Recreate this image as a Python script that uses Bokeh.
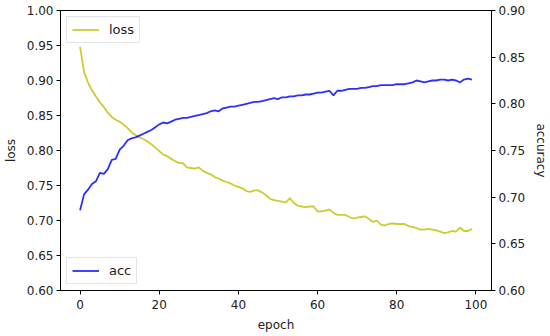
from bokeh.plotting import figure
from bokeh.models import (Range1d, LinearAxis, Legend, LegendItem, FixedTicker,
                          NumeralTickFormatter, ColumnDataSource)
from bokeh.embed import file_html
from bokeh.resources import INLINE

epochs = list(range(100))

loss = [0.948, 0.912, 0.897, 0.886, 0.877, 0.869, 0.862, 0.854, 0.848, 0.844,
        0.841, 0.837, 0.832, 0.826, 0.822, 0.819, 0.816, 0.813, 0.809, 0.804,
        0.799, 0.794, 0.792, 0.788, 0.785, 0.782, 0.782, 0.776, 0.775, 0.774,
        0.776, 0.771, 0.768, 0.766, 0.762, 0.760, 0.757, 0.755, 0.753, 0.750,
        0.748, 0.746, 0.742, 0.741, 0.743, 0.743, 0.740, 0.736, 0.731, 0.729,
        0.728, 0.727, 0.726, 0.732, 0.725, 0.721, 0.720, 0.719, 0.720, 0.720,
        0.713, 0.713, 0.714, 0.716, 0.711, 0.708, 0.708, 0.708, 0.705, 0.703,
        0.704, 0.705, 0.706, 0.702, 0.698, 0.700, 0.694, 0.693, 0.695, 0.696,
        0.695, 0.695, 0.695, 0.692, 0.691, 0.689, 0.687, 0.687, 0.688, 0.687,
        0.686, 0.684, 0.682, 0.683, 0.685, 0.684, 0.690, 0.685, 0.685, 0.688]

acc = [0.686, 0.703, 0.708, 0.714, 0.717, 0.726, 0.725, 0.730, 0.740, 0.741,
       0.751, 0.755, 0.761, 0.763, 0.764, 0.766, 0.768, 0.770, 0.772, 0.775,
       0.778, 0.780, 0.779, 0.781, 0.783, 0.784, 0.785, 0.785, 0.786, 0.787,
       0.788, 0.789, 0.790, 0.792, 0.793, 0.792, 0.795, 0.796, 0.797, 0.797,
       0.798, 0.799, 0.800, 0.801, 0.802, 0.802, 0.803, 0.804, 0.805, 0.806,
       0.805, 0.807, 0.807, 0.808, 0.808, 0.809, 0.809, 0.810, 0.810, 0.811,
       0.812, 0.812, 0.813, 0.814, 0.809, 0.814, 0.814, 0.815, 0.816, 0.816,
       0.816, 0.817, 0.817, 0.818, 0.819, 0.819, 0.820, 0.820, 0.820, 0.820,
       0.821, 0.821, 0.821, 0.822, 0.823, 0.825, 0.824, 0.823, 0.824, 0.825,
       0.825, 0.826, 0.826, 0.825, 0.826, 0.825, 0.823, 0.826, 0.827, 0.826]

x_ticks = [0, 20, 40, 60, 80, 100]
loss_ticks = [0.60, 0.65, 0.70, 0.75, 0.80, 0.85, 0.90, 0.95, 1.00]
acc_ticks = [0.60, 0.65, 0.70, 0.75, 0.80, 0.85, 0.90]

FONT = "DejaVu Sans"
TXT = "#222222"

src = ColumnDataSource(dict(epoch=epochs, loss=loss, acc=acc))

p = figure(frame_width=431, frame_height=280, output_backend="svg", toolbar_location=None,
           x_range=Range1d(-4.95, 103.95), y_range=Range1d(0.60, 1.00),
           min_border_left=52, min_border_right=50, min_border_top=10,
           min_border_bottom=30)
p.extra_y_ranges = {"acc": Range1d(0.60, 0.90)}

p.xgrid.visible = False
p.ygrid.visible = False
p.outline_line_color = "black"
p.outline_line_width = 1
p.outline_line_alpha = 1
p.background_fill_color = "white"
p.border_fill_color = "white"

r_loss = p.line("epoch", "loss", source=src, line_color="#bfbf00", line_alpha=0.8,
                line_width=1.8)
r_acc = p.line("epoch", "acc", source=src, y_range_name="acc", line_color="#0000ff",
               line_alpha=0.82, line_width=1.8)

right = LinearAxis(y_range_name="acc", axis_label="accuracy")
p.add_layout(right, "right")

p.xaxis.ticker = FixedTicker(ticks=x_ticks)
p.yaxis[0].ticker = FixedTicker(ticks=loss_ticks)
right.ticker = FixedTicker(ticks=acc_ticks)
p.yaxis[0].formatter = NumeralTickFormatter(format="0.00")
right.formatter = NumeralTickFormatter(format="0.00")
p.xaxis.axis_label = "epoch"
p.yaxis[0].axis_label = "loss"

for ax in [p.xaxis[0], p.yaxis[0], right]:
    ax.major_label_text_font = FONT
    ax.major_label_text_font_size = "12px"
    ax.major_label_text_color = TXT
    ax.axis_label_text_font = FONT
    ax.axis_label_text_font_size = "12px"
    ax.axis_label_text_font_style = "normal"
    ax.axis_label_text_color = TXT
    ax.axis_line_color = "black"
    ax.major_tick_line_color = "black"
    ax.major_tick_in = 0
    ax.major_tick_out = 4
    ax.minor_tick_line_color = None
    ax.major_label_standoff = 3
    ax.axis_label_standoff = 6
p.xaxis[0].major_label_standoff = 5

leg1 = Legend(items=[LegendItem(label="loss", renderers=[r_loss])], location="top_left")
leg2 = Legend(items=[LegendItem(label="acc", renderers=[r_acc])], location="bottom_left")
for lg in (leg1, leg2):
    lg.label_text_font = FONT
    lg.label_text_font_size = "13px"
    lg.label_text_color = TXT
    lg.border_line_color = "#cccccc"
    lg.border_line_width = 1
    lg.background_fill_color = "white"
    lg.background_fill_alpha = 0.8
    lg.glyph_width = 27
    lg.glyph_height = 15
    lg.label_standoff = 10
    lg.padding = 5
    lg.margin = 6
    lg.spacing = 0
    lg.label_height = 15
    p.add_layout(lg)

open("out.html", "w").write(file_html(p, INLINE))
